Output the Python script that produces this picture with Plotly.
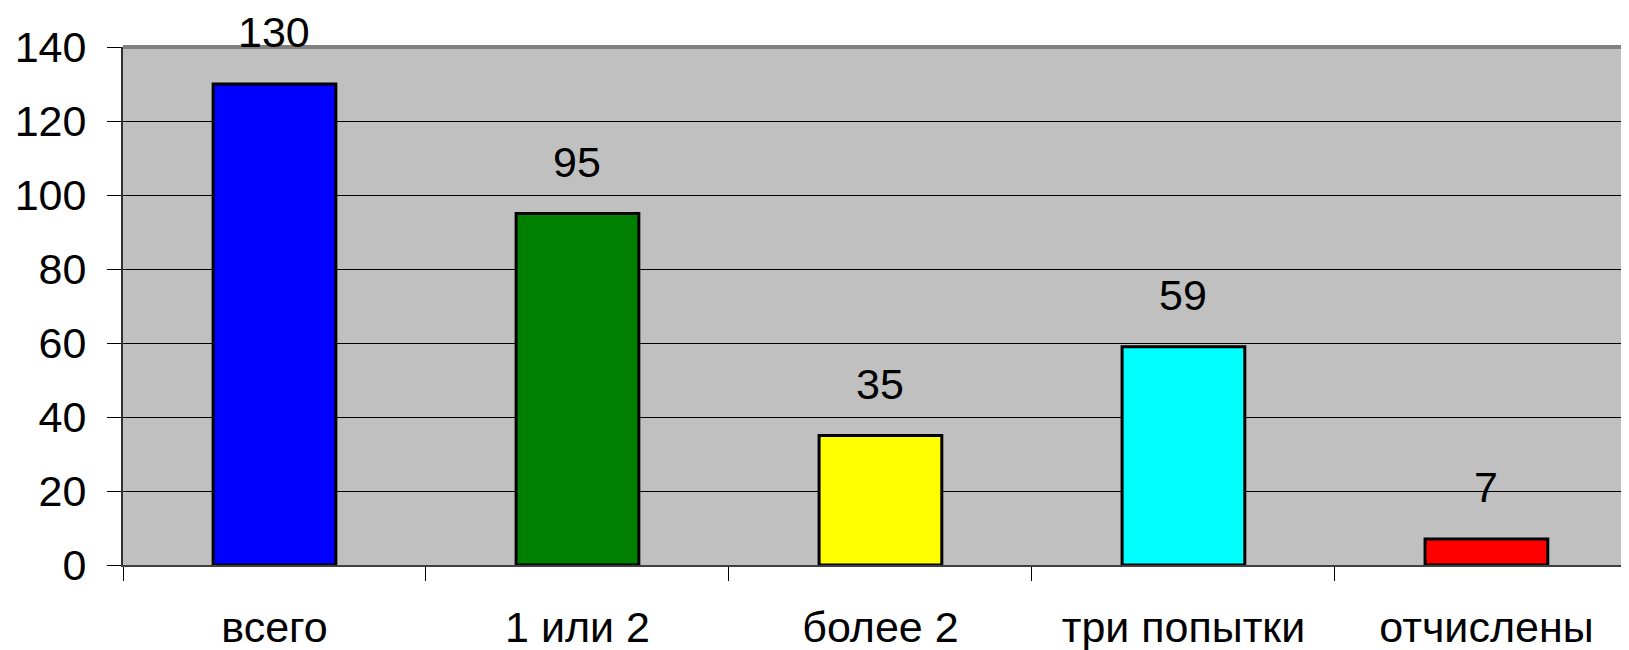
import plotly.graph_objects as go

categories = ["всего", "1 или 2", "более 2", "три попытки", "отчислены"]
values = [130, 95, 35, 59, 7]
colors = ["#0000FF", "#008000", "#FFFF00", "#00FFFF", "#FF0000"]
y_ticks = [0, 20, 40, 60, 80, 100, 120, 140]

FONT = "Liberation Sans, Arial, sans-serif"
FS = 43

fig = go.Figure()
fig.add_trace(go.Bar(
    x=categories, y=values,
    marker=dict(color=colors, line=dict(color="black", width=3)),
    hoverinfo="skip",
))

for c, v in zip(categories, values):
    fig.add_annotation(x=c, y=v, text=str(v), showarrow=False,
                       yanchor="bottom", yshift=26,
                       font=dict(family=FONT, size=FS, color="black"))

fig.update_layout(
    width=1629, height=650,
    margin=dict(l=115, r=0, t=39, b=93, pad=0),
    paper_bgcolor="white", plot_bgcolor="#C0C0C0",
    bargap=0.595, showlegend=False,
    font=dict(family=FONT, size=FS, color="black"),
)
fig.update_xaxes(
    type="category", range=[-0.5, 4.497], automargin=False,
    tickson="boundaries", ticks="outside", ticklen=14, tickwidth=1, tickcolor="black",
    showline=True, linecolor="#404040", linewidth=2,
    showgrid=False, ticklabelstandoff=23,
    tickfont=dict(family=FONT, size=FS, color="black"),
)
fig.update_yaxes(
    range=[0, 140], tickvals=y_ticks, automargin=False,
    ticks="outside", ticklen=14, tickwidth=1, tickcolor="black",
    showline=True, linecolor="#303030", linewidth=2,
    showgrid=True, gridcolor="black", gridwidth=1, zeroline=False,
    ticklabelstandoff=12,
    tickfont=dict(family=FONT, size=FS, color="black"),
)
fig.add_shape(type="line", xref="paper", yref="paper", x0=0, x1=1, y0=1, y1=1,
              line=dict(color="#808080", width=4))

fig.write_html("out.html")
